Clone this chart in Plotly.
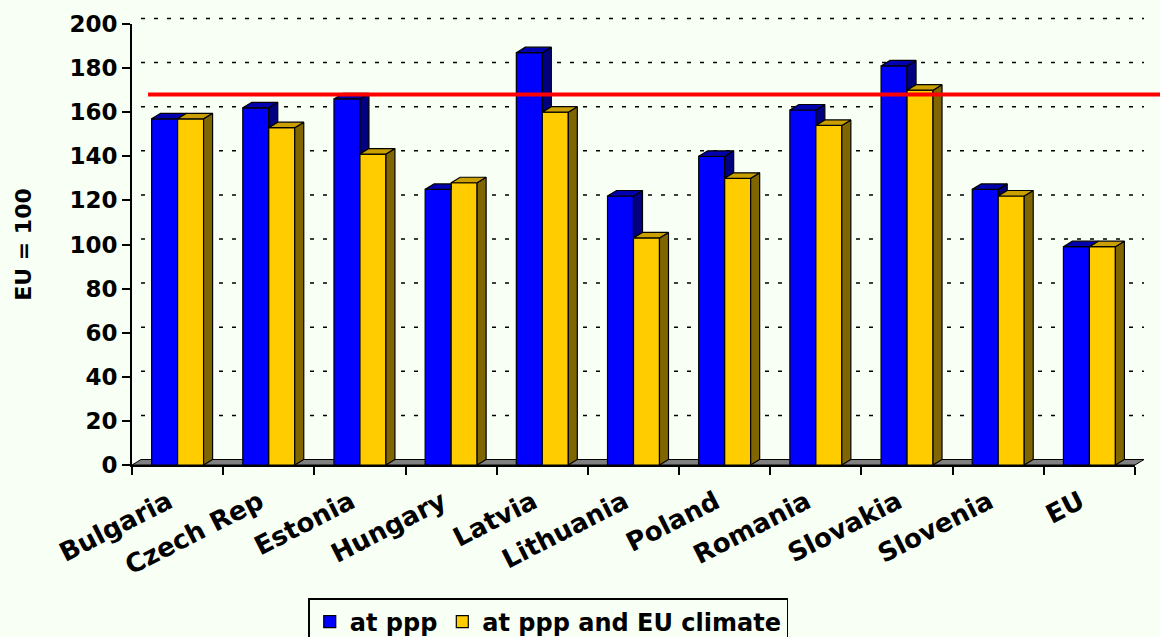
import plotly.graph_objects as go

# ---- data ----
categories = ["Bulgaria", "Czech Rep", "Estonia", "Hungary", "Latvia", "Lithuania",
              "Poland", "Romania", "Slovakia", "Slovenia", "EU"]
at_ppp = [157, 162, 166, 125, 187, 122, 140, 161, 181, 125, 99]
at_ppp_eu_climate = [157, 153, 141, 128, 160, 103, 130, 154, 170, 122, 99]
reference_level = 168
y_tick_values = [0, 20, 40, 60, 80, 100, 120, 140, 160, 180, 200]

# ---- layout geometry ----
W, H = 1160, 637
M_L, M_R, M_T, M_B = 132, 25, 24, 172
PW, PH = W - M_L - M_R, H - M_T - M_B
n = len(categories)
x_range = [-0.5, n - 0.5]
y_range = [0, 200]
bargap = 0.43
bw = (1 - bargap) / 2
# 3D depth offsets converted to data units
dx = 9 / PW * (x_range[1] - x_range[0])
dy = 5.5 / PH * (y_range[1] - y_range[0])

BG = "#F8FFF4"
BLUE, BLUE_TOP, BLUE_SIDE = "#0000FF", "#0000B0", "#000080"
GOLD, GOLD_TOP, GOLD_SIDE = "#FFCC00", "#C9A000", "#806600"
FONT = "DejaVu Sans"


def px(v):
    return (v - x_range[0]) / (x_range[1] - x_range[0])


def py(v):
    return (v - y_range[0]) / (y_range[1] - y_range[0])


xs_pos = list(range(n))

blue_tops, blue_sides, gold_tops, gold_sides = [], [], [], []
for i, (yb, yy) in enumerate(zip(at_ppp, at_ppp_eu_climate)):
    x0, x1, x2 = i - bw, i, i + bw
    # yellow (right) bar: top and side fully visible
    gold_tops.append([(x1, yy), (x2, yy), (x2 + dx, yy + dy), (x1 + dx, yy + dy)])
    gold_sides.append([(x2, 0), (x2, yy), (x2 + dx, yy + dy), (x2 + dx, dy)])
    # blue (left) bar: parts hidden by the yellow bar are clipped
    if yb >= yy:
        blue_tops.append([(x0, yb), (x1, yb), (x1 + dx, yb + dy), (x0 + dx, yb + dy)])
        if yb > yy:
            blue_sides.append([(x1, yy), (x1, yb), (x1 + dx, yb + dy), (x1 + dx, yy + dy)])
    else:
        s = max(0.0, 1 - (yy - yb) / dy)
        h = min(yy, yb + dy)
        blue_tops.append([(x0, yb), (x1, yb), (x1, h), (x1 + s * dx, yb + dy), (x0 + dx, yb + dy)])


def poly_trace(polys, color):
    xs, ys = [], []
    for p in polys:
        for a, b in p:
            xs.append(a)
            ys.append(b)
        xs.append(p[0][0])
        ys.append(p[0][1])
        xs.append(None)
        ys.append(None)
    return go.Scatter(x=xs, y=ys, mode="lines", fill="toself", fillcolor=color,
                      line=dict(color="black", width=1.2), showlegend=False,
                      hoverinfo="skip")


fig = go.Figure()
fig.add_trace(go.Bar(x=xs_pos, y=at_ppp, name="at ppp", marker=dict(color=BLUE, line=dict(color="black", width=1.2))))
fig.add_trace(go.Bar(x=xs_pos, y=at_ppp_eu_climate, name="at ppp and EU climate",
                     marker=dict(color=GOLD, line=dict(color="black", width=1.2))))
fig.add_trace(poly_trace(blue_sides, BLUE_SIDE))
fig.add_trace(poly_trace(blue_tops, BLUE_TOP))
fig.add_trace(poly_trace(gold_sides, GOLD_SIDE))
fig.add_trace(poly_trace(gold_tops, GOLD_TOP))

shapes = []
# floor
shapes.append(dict(type="path", xref="paper", yref="paper", layer="below",
                   path=f"M{px(x_range[0])},{py(0)} L{px(x_range[1])},{py(0)} "
                        f"L{px(x_range[1] + dx)},{py(dy)} L{px(x_range[0] + dx)},{py(dy)} Z",
                   fillcolor="#808080", line=dict(color="black", width=1)))
# back-wall gridlines
for v in y_tick_values[1:]:
    shapes.append(dict(type="line", xref="paper", yref="paper", layer="below",
                       x0=px(x_range[0] + dx), x1=px(x_range[1] + dx),
                       y0=py(v + dy), y1=py(v + dy),
                       line=dict(color="black", width=1.5, dash="4px,9px")))
# reference line
shapes.append(dict(type="line", xref="paper", yref="paper", layer="above",
                   x0=0.016, x1=1.03, y0=py(reference_level), y1=py(reference_level),
                   line=dict(color="#FF0000", width=4)))

fig.update_layout(
    width=W, height=H,
    margin=dict(l=M_L, r=M_R, t=M_T, b=M_B, autoexpand=False),
    paper_bgcolor=BG, plot_bgcolor="rgba(0,0,0,0)",
    barmode="group", bargap=bargap, bargroupgap=0,
    shapes=shapes,
    showlegend=True,
    legend=dict(orientation="h", x=0.415, xanchor="center", y=(465 - 598) / PH, yanchor="top",
                bordercolor="black", borderwidth=1.5, bgcolor=BG,
                font=dict(family=FONT, size=24, color="black", weight="bold"),
                itemclick=False),
    xaxis=dict(range=x_range, tickvals=xs_pos, ticktext=categories,
               ticks="outside", ticklen=10, tickcolor="rgba(0,0,0,0)",
               tickangle=-27, showgrid=False, zeroline=False,
               showline=True, linecolor="black", linewidth=1.5,
               ticklabelshift=-9,
               tickfont=dict(family=FONT, size=26, color="black", weight="bold"),
               minor=dict(tickvals=[i - 0.5 for i in range(n + 1)], ticks="outside",
                          ticklen=8, tickwidth=1.5, tickcolor="black", showgrid=False),
               fixedrange=True),
    yaxis=dict(range=y_range, tickvals=y_tick_values, ticks="outside", ticklen=8,
               tickwidth=1.5, tickcolor="black", showgrid=False, zeroline=False,
               showline=True, linecolor="black", linewidth=2,
               tickfont=dict(family=FONT, size=23, color="black", weight="bold"),
               title=dict(text="EU = 100", standoff=32,
                          font=dict(family=FONT, size=22, color="black", weight="bold")),
               fixedrange=True),
)

fig.write_html("out.html")
